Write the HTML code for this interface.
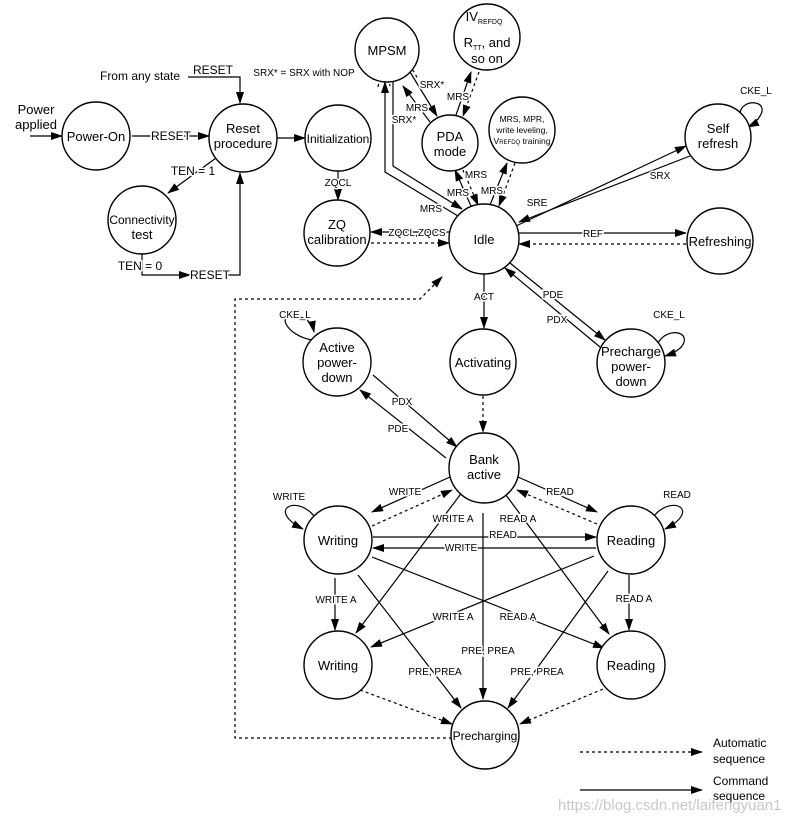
<!DOCTYPE html>
<html><head><meta charset="utf-8"><style>
html,body{margin:0;padding:0;background:#fff;}
svg{display:block;font-family:"Liberation Sans",sans-serif;}
.c{fill:#fff;stroke:#000;stroke-width:1.4}
.l{stroke:#000;stroke-width:1.2;fill:none}
.d{stroke:#000;stroke-width:1.2;fill:none;stroke-dasharray:3,3}
.t{font-size:13px;text-anchor:middle;fill:#000}
.s{font-size:10px;text-anchor:middle;fill:#000;paint-order:stroke;stroke:#fff;stroke-width:3px}
.m{font-size:12px;text-anchor:middle;fill:#000;paint-order:stroke;stroke:#fff;stroke-width:3px}
</style></head><body>
<svg width="793" height="824" viewBox="0 0 793 824" xmlns="http://www.w3.org/2000/svg">
<defs><marker id="a" markerWidth="12" markerHeight="8" refX="11" refY="4" orient="auto" markerUnits="userSpaceOnUse"><path d="M0,0L12,4L0,8z" fill="#000"/></marker></defs>
<g marker-end="url(#a)">
<line class="l" x1="30" y1="136" x2="62" y2="136"/>
<line class="l" x1="132" y1="136" x2="209" y2="136"/>
<polyline class="l" points="188,77 240,77 240,103"/>
<line class="l" x1="277" y1="138" x2="305" y2="138"/>
<line class="l" x1="216" y1="158" x2="168" y2="193"/>
<polyline class="l" points="142,254 142,275 190,275"/>
<polyline class="l" points="228,275 240,275 240,173"/>
<line class="l" x1="338" y1="171" x2="338" y2="200"/>
<line class="l" x1="449" y1="232" x2="371" y2="232"/>
<line class="d" x1="371" y1="243" x2="449" y2="243"/>
<polyline class="l" points="458,216 385,172 385,82"/>
<polyline class="l" points="393,82 393,166 462,209"/>
<line class="l" x1="430" y1="122" x2="403" y2="86"/>
<line class="l" x1="410" y1="72" x2="437" y2="116"/>
<line class="l" x1="456" y1="115" x2="471" y2="72"/>
<line class="d" x1="479" y1="72" x2="463" y2="116"/>
<line class="l" x1="471" y1="206" x2="455" y2="170"/>
<line class="d" x1="463" y1="170" x2="478" y2="205"/>
<line class="l" x1="490" y1="205" x2="507" y2="163"/>
<line class="d" x1="515" y1="163" x2="499" y2="206"/>
<line class="l" x1="516" y1="226" x2="686" y2="146"/>
<line class="l" x1="690" y1="156" x2="519" y2="222"/>
<line class="l" x1="519" y1="233" x2="686" y2="233"/>
<line class="d" x1="686" y1="244" x2="519" y2="244"/>
<line class="l" x1="484" y1="274" x2="484" y2="328"/>
<line class="l" x1="510" y1="263" x2="605" y2="340"/>
<line class="l" x1="600" y1="347" x2="505" y2="268"/>
<line class="d" x1="483" y1="396" x2="483" y2="432"/>
<line class="l" x1="373" y1="375" x2="457" y2="447"/>
<line class="l" x1="446" y1="458" x2="360" y2="390"/>
<line class="l" x1="450" y1="477" x2="372" y2="512"/>
<line class="d" x1="372" y1="526" x2="452" y2="490"/>
<line class="l" x1="518" y1="477" x2="597" y2="512"/>
<line class="d" x1="597" y1="524" x2="517" y2="490"/>
<line class="l" x1="373" y1="537" x2="596" y2="537"/>
<line class="l" x1="596" y1="548" x2="373" y2="548"/>
<line class="l" x1="335" y1="578" x2="335" y2="630"/>
<line class="l" x1="629" y1="575" x2="629" y2="630"/>
<line class="l" x1="463" y1="491" x2="356" y2="633"/>
<line class="l" x1="503" y1="491" x2="609" y2="634"/>
<line class="l" x1="372" y1="557" x2="604" y2="648"/>
<line class="l" x1="594" y1="556" x2="371" y2="647"/>
<line class="l" x1="483" y1="513" x2="483" y2="699"/>
<line class="l" x1="358" y1="575" x2="461" y2="708"/>
<line class="l" x1="608" y1="571" x2="508" y2="708"/>
<line class="d" x1="360" y1="690" x2="452" y2="724"/>
<line class="d" x1="603" y1="689" x2="520" y2="724"/>
<polyline class="d" points="452,738 235,738 235,299 420,299 442,277"/>
<line class="d" x1="580" y1="752" x2="702" y2="752"/>
<line class="l" x1="580" y1="790" x2="702" y2="790"/>
<path class="l" d="M312,340 C285,335 276,312 296,316 C306,318 312,322 314,332"/>
<path class="l" d="M314,516 C296,494 266,510 303,529"/>
<path class="l" d="M654,516 C672,494 702,510 665,529"/>
<path class="l" d="M740,113 C742,98 770,100 760,116 C757,121 754,124 748,127"/>
<path class="l" d="M658,343 C668,326 692,332 682,346 C679,350 674,353 665,356"/>
</g>
<path class="d" d="M378,87 Q384,58 390,86"/>
<path class="d" d="M403,72 Q410,60 418,80"/>
<g>
<circle class="c" cx="96" cy="136" r="34"/>
<circle class="c" cx="243" cy="138" r="34"/>
<circle class="c" cx="338" cy="138" r="33"/>
<circle class="c" cx="142" cy="220" r="34"/>
<circle class="c" cx="337" cy="233" r="33"/>
<circle class="c" cx="387" cy="50" r="32"/>
<circle class="c" cx="487" cy="37" r="33"/>
<circle class="c" cx="450" cy="143" r="28"/>
<circle class="c" cx="522" cy="130" r="33"/>
<circle class="c" cx="718" cy="137" r="33"/>
<circle class="c" cx="484" cy="239" r="35"/>
<circle class="c" cx="720" cy="241" r="33"/>
<circle class="c" cx="483" cy="362" r="33"/>
<circle class="c" cx="337" cy="362" r="34"/>
<circle class="c" cx="631" cy="363" r="34"/>
<circle class="c" cx="484" cy="468" r="35"/>
<circle class="c" cx="338" cy="540" r="34"/>
<circle class="c" cx="631" cy="540" r="34"/>
<circle class="c" cx="338" cy="665" r="34"/>
<circle class="c" cx="631" cy="665" r="34"/>
<circle class="c" cx="485" cy="735" r="34"/>
</g>
<g class="t">
<text x="96" y="141">Power-On</text>
<text x="243" y="133">Reset</text><text x="243" y="148">procedure</text>
<text x="338" y="143" style="font-size:12px">Initialization</text>
<text x="142" y="224" style="font-size:12px">Connectivity</text><text x="142" y="239">test</text>
<text x="337" y="229">ZQ</text><text x="337" y="244">calibration</text>
<text x="387" y="55">MPSM</text>
<text x="484" y="21">IV<tspan font-size="7" dy="3">REFDQ</tspan></text>
<text x="487" y="47">R<tspan font-size="7" dy="3">TT</tspan><tspan dy="-3">, and</tspan></text>
<text x="487" y="63">so on</text>
<text x="450" y="141">PDA</text><text x="450" y="156">mode</text>
<text x="522" y="122" style="font-size:8.5px">MRS, MPR,</text>
<text x="522" y="133" style="font-size:8.5px">write leveling,</text>
<text x="522" y="144" style="font-size:8.5px">V<tspan font-size="6">REFDQ</tspan> training</text>
<text x="718" y="133">Self</text><text x="718" y="148">refresh</text>
<text x="484" y="244">Idle</text>
<text x="720" y="246">Refreshing</text>
<text x="483" y="367">Activating</text>
<text x="337" y="352">Active</text><text x="337" y="367">power-</text><text x="337" y="382">down</text>
<text x="631" y="356">Precharge</text><text x="631" y="371">power-</text><text x="631" y="386">down</text>
<text x="484" y="464">Bank</text><text x="484" y="479">active</text>
<text x="338" y="545">Writing</text><text x="631" y="545">Reading</text>
<text x="338" y="670">Writing</text><text x="631" y="670">Reading</text>
<text x="485" y="740" style="font-size:12px">Precharging</text>
<text x="36" y="114">Power</text><text x="36" y="129">applied</text>
<text x="140" y="80" style="font-size:12px">From any state</text>
</g>
<g class="m">
<text x="171" y="140">RESET</text>
<text x="213" y="74">RESET</text>
<text x="193" y="175">TEN = 1</text>
<text x="140" y="270">TEN = 0</text>
<text x="210" y="279">RESET</text>
<text x="713" y="747" style="text-anchor:start">Automatic</text>
<text x="713" y="763" style="text-anchor:start">sequence</text>
<text x="713" y="785" style="text-anchor:start">Command</text>
<text x="713" y="800" style="text-anchor:start">sequence</text>
</g>
<g class="s">
<text x="304" y="76">SRX* = SRX with NOP</text>
<text x="338" y="186">ZQCL</text>
<text x="417" y="236">ZQCL,ZQCS</text>
<text x="404" y="123">SRX*</text>
<text x="431" y="212">MRS</text>
<text x="432" y="88">SRX*</text>
<text x="417" y="111">MRS</text>
<text x="458" y="100">MRS</text>
<text x="476" y="178">MRS</text>
<text x="458" y="196">MRS</text>
<text x="492" y="194">MRS</text>
<text x="537" y="206">SRE</text>
<text x="660" y="179">SRX</text>
<text x="593" y="237">REF</text>
<text x="484" y="300">ACT</text>
<text x="553" y="298">PDE</text>
<text x="557" y="323">PDX</text>
<text x="756" y="94">CKE_L</text>
<text x="669" y="318">CKE_L</text>
<text x="295" y="318">CKE_L</text>
<text x="402" y="405">PDX</text>
<text x="398" y="432">PDE</text>
<text x="405" y="495">WRITE</text>
<text x="560" y="495">READ</text>
<text x="289" y="500">WRITE</text>
<text x="677" y="498">READ</text>
<text x="453" y="522">WRITE A</text>
<text x="518" y="522">READ A</text>
<text x="503" y="538">READ</text>
<text x="461" y="551">WRITE</text>
<text x="336" y="603">WRITE A</text>
<text x="634" y="602">READ A</text>
<text x="453" y="620">WRITE A</text>
<text x="518" y="620">READ A</text>
<text x="488" y="654">PRE, PREA</text>
<text x="435" y="675">PRE,  PREA</text>
<text x="537" y="675">PRE,  PREA</text>
</g>
<text x="558" y="810" style="font-size:15px;fill:#c8c8c8;font-family:'Liberation Sans',sans-serif">https://blog.csdn.net/laifengyuan1</text>
</svg>
</body></html>
